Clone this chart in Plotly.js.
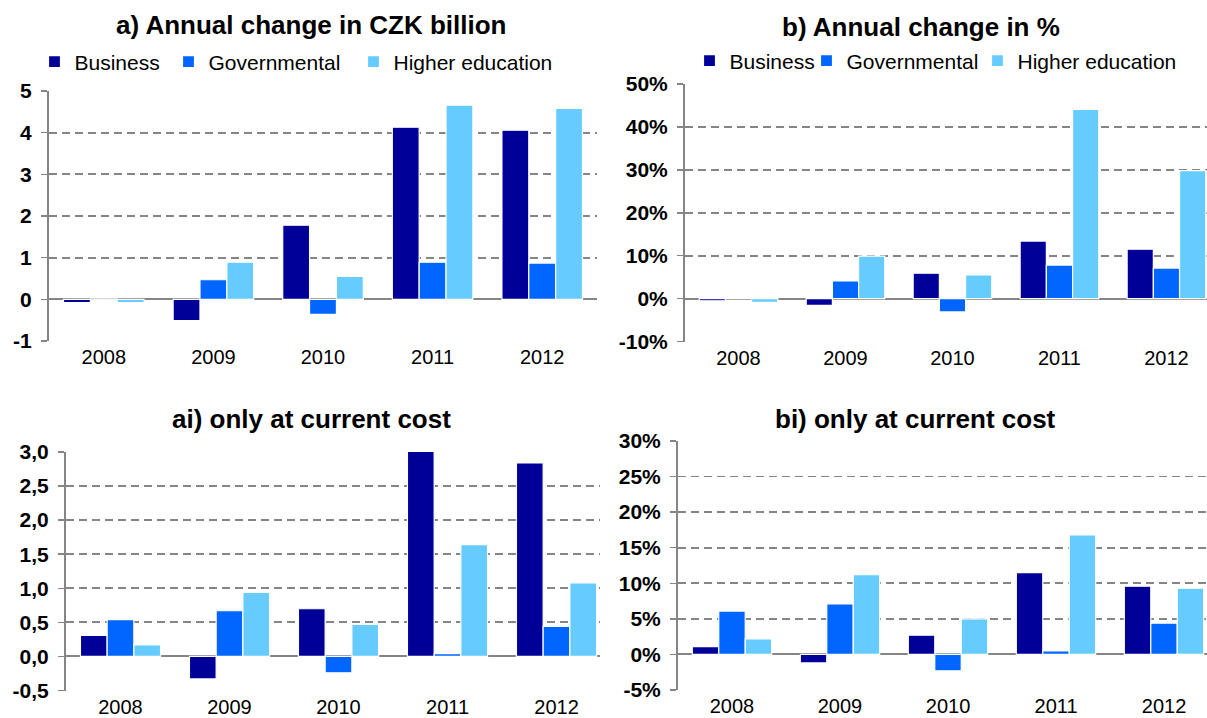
<!DOCTYPE html>
<html>
<head>
<meta charset="utf-8">
<script src="https://cdn.plot.ly/plotly-3.0.1.min.js"></script>
<style>
  html, body { margin: 0; padding: 0; background: #fff; }
  #chart { width: 1207px; height: 718px; }
  .plot .bars .point path { filter: drop-shadow(3px 4px 2px rgba(0,0,0,0.28)); }
</style>
</head>
<body>
<div id="chart"></div>
<script>
// ---------- data ----------
const years = ['2008', '2009', '2010', '2011', '2012'];
const seriesNames = ['Business', 'Governmental', 'Higher education'];

// a) Annual change in CZK billion
const aBusiness = [-0.08, -0.51, 1.78, 4.13, 4.06];
const aGovernmental = [0.01, 0.47, -0.36, 0.89, 0.87];
const aHigherEd = [-0.08, 0.89, 0.55, 4.66, 4.58];

// b) Annual change in %
const bBusiness = [-0.005, -0.016, 0.059, 0.134, 0.115];
const bGovernmental = [0.001, 0.041, -0.031, 0.078, 0.071];
const bHigherEd = [-0.009, 0.099, 0.055, 0.441, 0.298];

// ai) only at current cost (CZK billion)
const aiBusiness = [0.31, -0.33, 0.70, 3.01, 2.84];
const aiGovernmental = [0.54, 0.67, -0.24, 0.04, 0.44];
const aiHigherEd = [0.17, 0.94, 0.47, 1.64, 1.08];

// bi) only at current cost (%)
const biBusiness = [0.011, -0.012, 0.027, 0.115, 0.096];
const biGovernmental = [0.061, 0.071, -0.023, 0.005, 0.044];
const biHigherEd = [0.022, 0.112, 0.050, 0.168, 0.093];

// tick labels
const aTickVals = [-1, 0, 1, 2, 3, 4, 5];
const aTickText = ['-1', '0', '1', '2', '3', '4', '5'];
const bTickVals = [-0.1, 0, 0.1, 0.2, 0.3, 0.4, 0.5];
const bTickText = ['-10%', '0%', '10%', '20%', '30%', '40%', '50%'];
const aiTickVals = [-0.5, 0, 0.5, 1.0, 1.5, 2.0, 2.5, 3.0];
const aiTickText = ['-0,5', '0,0', '0,5', '1,0', '1,5', '2,0', '2,5', '3,0'];
const biTickVals = [-0.05, 0, 0.05, 0.10, 0.15, 0.20, 0.25, 0.30];
const biTickText = ['-5%', '0%', '5%', '10%', '15%', '20%', '25%', '30%'];

const panelTitles = ['a) Annual change in CZK billion', 'b) Annual change in %',
                     'ai) only at current cost', 'bi) only at current cost'];

// ---------- style ----------
const colors = ['#000099', '#0066FF', '#66CCFF'];
const FONT = 'Liberation Sans, Arial, Helvetica, sans-serif';
const GRID = '#858585';

const panels = [
  {vals: [aBusiness, aGovernmental, aHigherEd], xa: 'x', ya: 'y', legends: ['legend', 'legend2', 'legend3'], show: true},
  {vals: [bBusiness, bGovernmental, bHigherEd], xa: 'x2', ya: 'y2', legends: ['legend4', 'legend5', 'legend6'], show: true},
  {vals: [aiBusiness, aiGovernmental, aiHigherEd], xa: 'x3', ya: 'y3', legends: ['legend', 'legend', 'legend'], show: false},
  {vals: [biBusiness, biGovernmental, biHigherEd], xa: 'x4', ya: 'y4', legends: ['legend', 'legend', 'legend'], show: false}
];

const traces = [];
panels.forEach(p => {
  p.vals.forEach((v, i) => {
    traces.push({
      type: 'bar', x: years, y: v, name: seriesNames[i],
      xaxis: p.xa, yaxis: p.ya, legend: p.legends[i], showlegend: p.show,
      marker: {color: colors[i], line: {color: '#ffffff', width: 1.2}},
      hoverinfo: 'x+y+name'
    });
  });
});

function xAxis(domain, range, anchor) {
  return {
    domain: domain, range: range, anchor: anchor, type: 'category',
    showgrid: false, zeroline: false, showline: false, ticks: '',
    tickfont: {family: FONT, size: 20, color: '#000'},
    ticklabelstandoff: 2, fixedrange: true
  };
}
function yAxis(domain, range, anchor, tv, tt) {
  return {
    domain: domain, range: range, anchor: anchor,
    tickmode: 'array', tickvals: tv, ticktext: tt,
    showgrid: true, gridcolor: GRID, gridwidth: 1.8, griddash: '8px,5px',
    zeroline: true, zerolinecolor: GRID, zerolinewidth: 2,
    showline: true, linecolor: GRID, linewidth: 2,
    ticks: 'outside', ticklen: 6, tickcolor: GRID, tickwidth: 1.5,
    tickfont: {family: FONT, size: 21, color: '#000', weight: 'bold'},
    ticklabelstandoff: 5, fixedrange: true
  };
}

const H = 718, W = 1207;
const py = v => (H - v) / H;
const px = v => v / W;

function legendAt(markerX, markerY) {
  return {
    orientation: 'h', x: px(markerX - 22.5), xanchor: 'left', y: py(markerY), yanchor: 'middle',
    font: {family: FONT, size: 21, color: '#000'}, bgcolor: 'rgba(0,0,0,0)',
    itemclick: false, itemdoubleclick: false
  };
}

const layout = {
  width: W, height: H,
  margin: {l: 0, r: 0, t: 0, b: 0},
  paper_bgcolor: '#fff', plot_bgcolor: '#fff',
  barmode: 'group', bargap: 0.265, bargroupgap: 0,
  font: {family: FONT, color: '#000'},
  xaxis: xAxis([px(49), px(597)], [-0.5, 4.5], 'y'),
  yaxis: yAxis([py(341), py(91)], [-1, 5], 'x', aTickVals, aTickText),
  xaxis2: xAxis([px(685), 1], [-0.5, 4.379], 'y2'),
  yaxis2: yAxis([py(341.5), py(84)], [-0.1, 0.5], 'x2', bTickVals, bTickText),
  xaxis3: xAxis([px(66), px(600)], [-0.5, 4.399], 'y3'),
  yaxis3: yAxis([py(690.5), py(452)], [-0.5, 3.0], 'x3', aiTickVals, aiTickText),
  xaxis4: xAxis([px(678), 1], [-0.5, 4.398], 'y4'),
  yaxis4: yAxis([py(690), py(441)], [-0.05, 0.30], 'x4', biTickVals, biTickText),
  legend: legendAt(57, 62),
  legend2: legendAt(191, 62),
  legend3: legendAt(376, 62),
  legend4: legendAt(712, 61),
  legend5: legendAt(829, 61),
  legend6: legendAt(1000, 61),
  annotations: [
    {text: panelTitles[0], x: px(311), y: py(25)},
    {text: panelTitles[1], x: px(921), y: py(27)},
    {text: panelTitles[2], x: px(311), y: py(419)},
    {text: panelTitles[3], x: px(915), y: py(419)}
  ].map(a => Object.assign({
    xref: 'paper', yref: 'paper', xanchor: 'center', yanchor: 'middle', showarrow: false,
    font: {family: FONT, size: 26, color: '#000', weight: 'bold'}
  }, a)),
  showlegend: true
};

Plotly.newPlot('chart', traces, layout, {staticPlot: true, displayModeBar: false});
</script>
</body>
</html>
